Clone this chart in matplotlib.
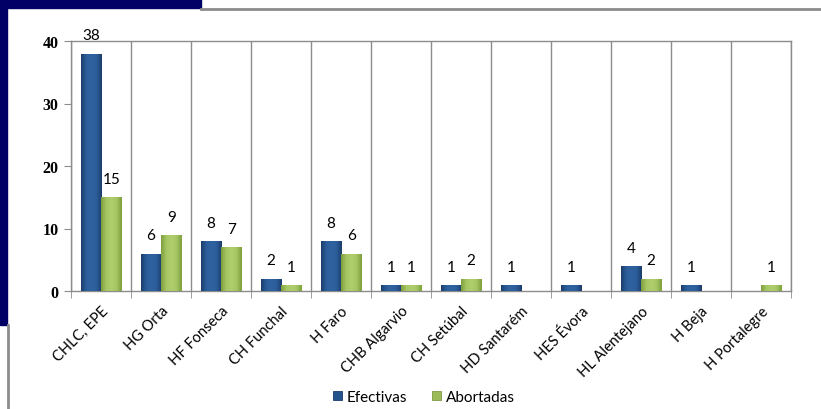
import matplotlib
matplotlib.use("Agg")
import matplotlib.pyplot as plt
import numpy as np
from matplotlib.patches import Rectangle
from matplotlib.colors import LinearSegmentedColormap

categories = ["CHLC, EPE", "HG Orta", "HF Fonseca", "CH Funchal", "H Faro", "CHB Algarvio",
              "CH Setúbal", "HD Santarém", "HES Évora", "HL Alentejano", "H Beja", "H Portalegre"]
efectivas = [38, 6, 8, 2, 8, 1, 1, 1, 1, 4, 1, np.nan]
abortadas = [15, 9, 7, 1, 6, 1, 2, np.nan, np.nan, 2, np.nan, 1]
yticks = [0, 10, 20, 30, 40]

W, H = 821, 410
fig = plt.figure(figsize=(W / 100, H / 100), dpi=100)

# decorative frame
fig.patches.append(Rectangle((0, 1 - 9 / H), 201 / W, 9 / H, transform=fig.transFigure,
                             color="#000066", zorder=0))
fig.patches.append(Rectangle((0, 1 - 326 / H), 7 / W, 326 / H, transform=fig.transFigure,
                             color="#000066", zorder=0))
fig.add_artist(plt.Line2D([201 / W, 1], [1 - 9.5 / H, 1 - 9.5 / H], transform=fig.transFigure,
                          color="#8c8c8c", lw=2))
fig.add_artist(plt.Line2D([7.5 / W, 7.5 / W], [0, 1 - 326 / H], transform=fig.transFigure,
                          color="#8c8c8c", lw=2))

ax = fig.add_axes([71 / W, 1 - 292 / H, 720 / W, 250 / H])
x = np.arange(len(categories))
bw = 0.34
blue = "#24528c"
green = "#9bbb59"
b1 = ax.bar(x - bw / 2, efectivas, bw, color=blue, edgecolor="#1a3c68", lw=0.6, zorder=3,
            label="Efectivas")
b2 = ax.bar(x + bw / 2, abortadas, bw, color=green, edgecolor="#7e9c42", lw=0.6, zorder=3,
            label="Abortadas")

cm_blue = LinearSegmentedColormap.from_list("b", ["#1b3d6b", "#2b5d99", "#2f62a0", "#2b5d99", "#1b3d6b"])
cm_green = LinearSegmentedColormap.from_list("g", ["#7f9e3e", "#a6c663", "#b0cf6c", "#a6c663", "#7f9e3e"])
grad = np.linspace(0, 1, 64).reshape(1, -1)
for bars, cm in ((b1, cm_blue), (b2, cm_green)):
    for p in bars:
        h = p.get_height()
        if np.isnan(h) or h == 0:
            continue
        x0, w = p.get_x(), p.get_width()
        im = ax.imshow(grad, cmap=cm, aspect="auto", extent=(x0, x0 + w, 0, h), zorder=3.5,
                       interpolation="bicubic")
        im.set_clip_path(p)

for xs, vals in ((x - bw / 2, efectivas), (x + bw / 2, abortadas)):
    for xi, v in zip(xs, vals):
        if not np.isnan(v):
            ax.annotate(f"{int(v)}", (xi, v), xytext=(0, 8), textcoords="offset points",
                        ha="center", va="bottom", fontsize=11, family="Lato", color="black")

ax.set_xlim(-0.5, len(categories) - 0.5)
ax.set_ylim(0, 40)
ax.set_yticks(yticks)
ax.set_yticklabels([str(t) for t in yticks], family="Liberation Serif", fontsize=11.5,
                   fontweight="bold")
ax.set_xticks(x)
ax.set_xticklabels(categories, rotation=45, ha="right", rotation_mode="anchor",
                   family="Lato", fontsize=10.5)
ax.tick_params(axis="x", which="major", length=0, pad=9)
ax.set_xticks(np.arange(-0.5, len(categories), 1), minor=True)
ax.tick_params(axis="x", which="minor", length=5, color="#8c8c8c", direction="out")
ax.tick_params(axis="y", length=5, color="#8c8c8c", direction="out", pad=4)
ax.grid(True, which="minor", axis="x", color="#8c8c8c", lw=1, zorder=0)
for s in ax.spines.values():
    s.set_color("#8c8c8c")
    s.set_linewidth(1)

leg = fig.legend(handles=[b1, b2], loc="center", bbox_to_anchor=(424 / W, 1 - 398 / H),
                 ncol=2, frameon=False, prop={"family": "Lato", "size": 11},
                 handlelength=0.6, handleheight=0.6, handletextpad=0.3, columnspacing=1.6)

fig.savefig("out.png", dpi=100)
